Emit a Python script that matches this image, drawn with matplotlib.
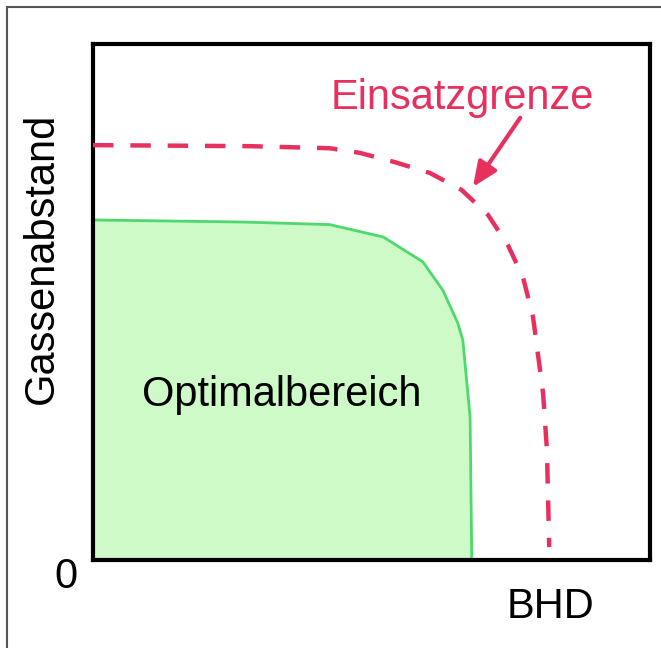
import matplotlib
matplotlib.use("Agg")
import matplotlib.pyplot as plt
from matplotlib.lines import Line2D
from matplotlib.patches import Polygon

plt.rcParams['font.family'] = ['Liberation Sans', 'DejaVu Sans']

# Optimal region outline (BHD, Gassenabstand) in 0..100 units
opt_x = [0, 26.9, 42.5, 52.1, 59.2, 62.8, 65.5, 66.4, 67.7, 68.0, 68.0, 0]
opt_y = [65.9, 65.5, 65.0, 62.6, 57.8, 52.3, 45.9, 42.6, 27.7, 0.4, 0, 0]

# Operating limit curve
lim_x = [0, 28.2, 42.5, 47.9, 54.2, 60.5, 66.2, 70.9, 74.5, 77.2, 79.0, 80.8, 81.5, 81.9]
lim_y = [80.4, 80.2, 79.8, 78.9, 77.1, 75.0, 71.7, 66.9, 61.0, 54.8, 47.1, 32.4, 21.3, 2.5]

arrow_tail = (76.7, 85.7)
arrow_tip = (68.2, 72.3)

red = '#e8305f'

fig = plt.figure(figsize=(6.61, 6.48), dpi=100)
ax = fig.add_axes([93/661, 1-560/648, 557/661, 516/648])
ax.set_xlim(0, 100)
ax.set_ylim(0, 100)
ax.set_xticks([])
ax.set_yticks([])
for s in ax.spines.values():
    s.set_linewidth(3)
    s.set_color('black')

poly = Polygon(list(zip(opt_x, opt_y)), closed=True, facecolor='#cdfac6',
               edgecolor='#4fd86e', linewidth=2, joinstyle='round', zorder=2)
ax.add_patch(poly)

ax.plot(lim_x, lim_y, color=red, lw=3.2, dashes=(4.6, 3.8),
        solid_joinstyle='round', zorder=3)

ax.annotate('', xy=arrow_tip, xytext=arrow_tail,
            arrowprops=dict(arrowstyle='-|>,head_length=1.5,head_width=0.65',
                            color=red, lw=3, shrinkA=0, shrinkB=0), zorder=4)

ax.text(66.3, 89.5, 'Einsatzgrenze', color=red, fontsize=30,
        ha='center', va='center', zorder=5)
ax.text(33.9, 32.0, 'Optimalbereich', color='black', fontsize=30,
        ha='center', va='center', zorder=5)

fig.text(42/661, 1-258/648, 'Gassenabstand', rotation=90, fontsize=30,
         ha='center', va='center')
fig.text(66/661, 1-577/648, '0', fontsize=30, ha='center', va='center')
fig.text(551/661, 1-607/648, 'BHD', fontsize=30, ha='center', va='center')

# outer frame (left and top visible)
fig.add_artist(Line2D([7/661, 7/661], [0, 1-7/648], color='#555555', lw=1.5,
                      transform=fig.transFigure))
fig.add_artist(Line2D([7/661, 1], [1-7/648, 1-7/648], color='#555555', lw=1.5,
                      transform=fig.transFigure))

fig.savefig('out.png', dpi=100)
